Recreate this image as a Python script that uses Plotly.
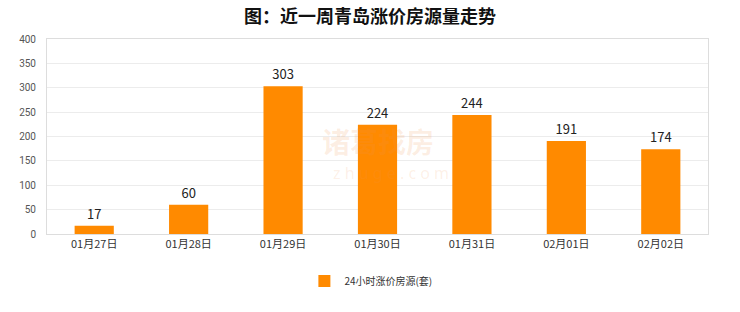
import plotly.graph_objects as go

categories = ["01月27日", "01月28日", "01月29日", "01月30日", "01月31日", "02月01日", "02月02日"]
values = [17, 60, 303, 224, 244, 191, 174]
y_ticks = [0, 50, 100, 150, 200, 250, 300, 350, 400]
series_name = "24小时涨价房源(套)"
title_text = "图：近一周青岛涨价房源量走势"

fig = go.Figure()
fig.add_trace(go.Bar(
    x=categories, y=values, name=series_name,
    marker=dict(color="#FF8A00", line=dict(width=0)),
    text=[str(v) for v in values], textposition="outside",
    textfont=dict(size=13, color="#222", family="Noto Sans CJK SC"),
    cliponaxis=False, showlegend=True,
))

fig.add_annotation(
    text="<b>诸葛找房</b>", x=0.5, y=0.475, xref="paper", yref="paper",
    showarrow=False, font=dict(size=28, color="rgba(240,150,80,0.16)", family="Noto Sans CJK SC"),
)
fig.add_annotation(
    text="z h u g e . c o m", x=0.52, y=0.245, xref="paper", yref="paper",
    showarrow=False, font=dict(size=16, color="rgba(240,150,80,0.14)", family="Noto Sans"),
)

fig.update_layout(
    width=740, height=312,
    margin=dict(l=47, r=32, t=39, b=78, autoexpand=False),
    paper_bgcolor="white", plot_bgcolor="white",
    title=dict(text="<b>" + title_text + "</b>", x=0.5, xanchor="center", y=0.948, yanchor="middle",
               font=dict(size=18, color="#111", family="Noto Sans CJK SC")),
    bargap=0.585,
    showlegend=True,
    legend=dict(orientation="h", x=0.49, xanchor="center", yref="container", y=(312 - 281) / 312,
                yanchor="middle",
                font=dict(size=10, color="#333", family="Noto Sans CJK SC"),
                itemwidth=30),
    xaxis=dict(type="category", showgrid=False, showline=True, linecolor="#ddd", mirror=True,
               ticks="", tickfont=dict(size=11, color="#333", family="Noto Sans CJK SC")),
    yaxis=dict(range=[0, 400], tickvals=y_ticks, showgrid=True, gridcolor="#ececec",
               showline=True, linecolor="#ddd", mirror=True, zeroline=False,
               ticks="", tickfont=dict(size=10, color="#555", family="Roboto"),
               ticklabelstandoff=8),
)

fig.write_html("out.html")
